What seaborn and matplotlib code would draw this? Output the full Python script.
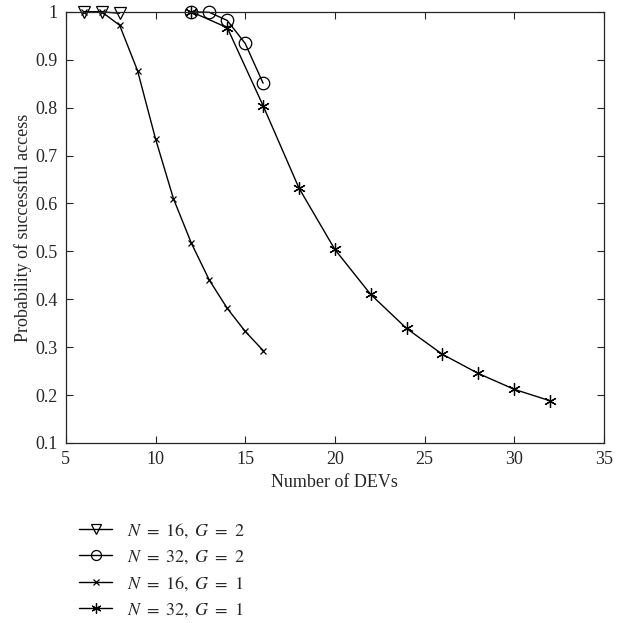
import numpy as np
import pandas as pd
import seaborn as sns
import matplotlib.pyplot as plt

# N = 16, G = 2
x_n16_g2 = [6, 7, 8]
y_n16_g2 = [1.0, 1.0, 0.997]
# N = 32, G = 2
x_n32_g2 = [12, 13, 14, 15, 16]
y_n32_g2 = [1.0, 0.999, 0.982, 0.934, 0.851]
# N = 16, G = 1
x_n16_g1 = [6, 7, 8, 9, 10, 11, 12, 13, 14, 15, 16]
y_n16_g1 = [1.0, 1.0, 0.972, 0.877, 0.735, 0.610, 0.517, 0.440, 0.381, 0.333, 0.293]
# N = 32, G = 1
x_n32_g1 = [12, 14, 16, 18, 20, 22, 24, 26, 28, 30, 32]
y_n32_g1 = [1.0, 0.967, 0.804, 0.632, 0.504, 0.410, 0.339, 0.285, 0.245, 0.212, 0.188]

labels = [r'$N\ =\ 16,\ G\ =\ 2$', r'$N\ =\ 32,\ G\ =\ 2$',
          r'$N\ =\ 16,\ G\ =\ 1$', r'$N\ =\ 32,\ G\ =\ 1$']

sns.set_style('ticks')
plt.rcParams['font.family'] = ['Liberation Serif', 'DejaVu Serif']
plt.rcParams['mathtext.fontset'] = 'stix'
plt.rcParams['xtick.direction'] = 'in'
plt.rcParams['ytick.direction'] = 'in'

fig = plt.figure(figsize=(6.33, 6.23), dpi=100)
ax = fig.add_axes([0.104, 0.289, 0.850, 0.692])

series = [
    (x_n16_g2, y_n16_g2, 'v', 9, 'none'),
    (x_n32_g2, y_n32_g2, 'o', 9, 'none'),
    (x_n16_g1, y_n16_g1, 'x', 5, 'k'),
    (x_n32_g1, y_n32_g1, (6, 2, 0), 9, 'k'),
]
for (xs, ys, m, ms, fc), lab in zip(series, labels):
    df = pd.DataFrame({'x': xs, 'y': ys})
    sns.lineplot(data=df, x='x', y='y', ax=ax, color='k', lw=1,
                 marker=m, markersize=ms, markerfacecolor=fc,
                 markeredgecolor='k', markeredgewidth=0.9, label=lab,
                 clip_on=False)

ax.set_xlim(5, 35)
ax.set_ylim(0.1, 1.0)
ax.set_xticks(np.arange(5, 36, 5))
ax.set_yticks(np.arange(0.1, 1.01, 0.1))
ax.set_yticklabels(['0.1', '0.2', '0.3', '0.4', '0.5', '0.6', '0.7', '0.8', '0.9', '1'])
ax.tick_params(top=True, right=True, labelsize=13, length=5, width=0.8, pad=6)
for s in ax.spines.values():
    s.set_linewidth(0.9)
ax.set_xlabel('Number of DEVs', fontsize=13, labelpad=4)
ax.set_ylabel('Probability of successful access', fontsize=13, labelpad=2)

ax.legend(loc='upper left', bbox_to_anchor=(0.011, -0.164), frameon=False,
          fontsize=13, handlelength=1.85, handletextpad=0.8, markerscale=0.8,
          labelspacing=0.45, borderaxespad=0)

fig.savefig('out.png', dpi=100)
